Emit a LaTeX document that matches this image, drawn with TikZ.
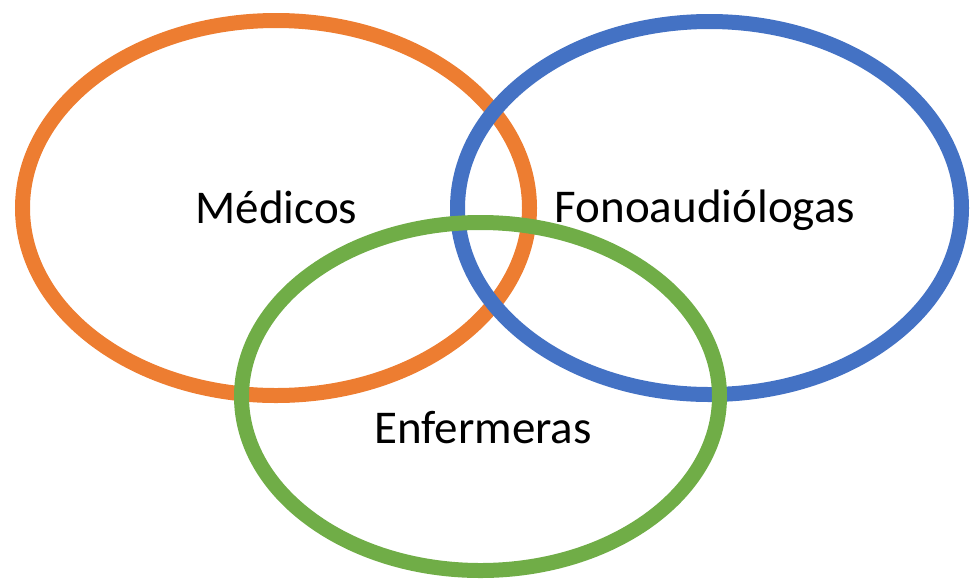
\documentclass[tikz,border=0pt]{standalone}
\usepackage{fontspec}
\setmainfont{Carlito}
\definecolor{cOrange}{HTML}{ED7D31}
\definecolor{cBlue}{HTML}{4472C4}
\definecolor{cGreen}{HTML}{70AD47}
\tikzset{
  ring/.style={line width=15pt},
  lbl/.style={anchor=base, inner sep=0pt, font=\fontsize{47}{50}\selectfont}
}
\begin{document}
\begin{tikzpicture}[x=1pt,y=-1pt]
\useasboundingbox (0,0) rectangle (971,579);
\draw[ring, cOrange] (276,208) ellipse [x radius=253.5, y radius=187.5];
\draw[ring, cBlue] (709.5,208) ellipse [x radius=252, y radius=186.5];
\draw[ring, cGreen] (480.5,396.5) ellipse [x radius=239, y radius=174];
\node[lbl] (med) at (276.5,223) {Médicos};
\node[lbl] (fon) at (705,222) {Fonoaudiólogas};
\node[lbl] (enf) at (483,443) {Enfermeras};
\end{tikzpicture}
\end{document}
